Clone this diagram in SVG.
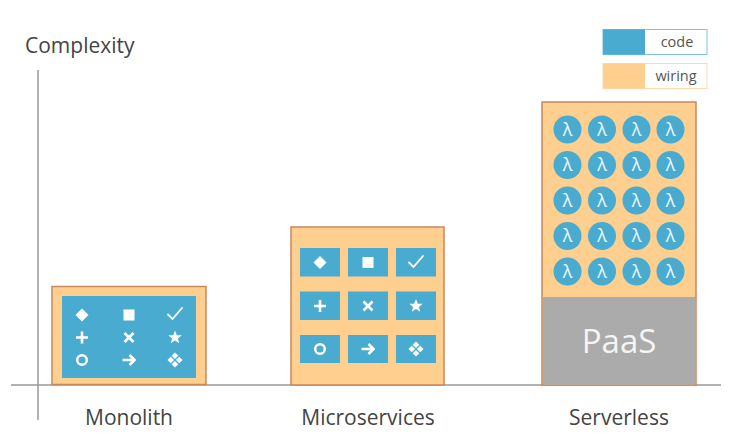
<svg xmlns="http://www.w3.org/2000/svg" xmlns:xlink="http://www.w3.org/1999/xlink" width="731" height="438" viewBox="0 0 731 438">
<style>
.lbl{font-family:"Open Sans","Liberation Sans",sans-serif;fill:#444;font-size:21px;text-anchor:middle}
.leg{font-family:"Open Sans","Liberation Sans",sans-serif;fill:#555;font-size:14.5px;text-anchor:middle}
.wire{fill:#fecf8f;stroke:#c8895c;stroke-width:1.5}
.code{fill:#4aabd0}
.lam{font-family:"Open Sans","DejaVu Sans",sans-serif;fill:#eef7fb;font-size:18px;text-anchor:middle}
.ic{fill:#fff}
.is{fill:none;stroke:#fff;stroke-width:2.6}
.axis{stroke:#999;stroke-width:1.5}
</style>
<defs>
<polygon id="i-diamond" class="ic" points="0,-6.5 6.5,0 0,6.5 -6.5,0"/>
<rect id="i-square" class="ic" x="-5.5" y="-5.5" width="11" height="11"/>
<path id="i-check" fill="none" stroke="#fff" stroke-width="1.8" stroke-linecap="round" d="M-7,0.5 L-2.5,5 L7,-6"/>
<path id="i-plus" class="is" d="M-6,0 H6 M0,-6 V6"/>
<path id="i-x" class="is" d="M-4.5,-4.5 L4.5,4.5 M4.5,-4.5 L-4.5,4.5"/>
<polygon id="i-star" class="ic" points="0,-7 1.8,-2.3 6.7,-2.2 2.9,0.9 4.2,5.7 0,2.9 -4.2,5.7 -2.9,0.9 -6.7,-2.2 -1.8,-2.3"/>
<circle id="i-ring" cx="0" cy="0" r="4.8" fill="none" stroke="#fff" stroke-width="2.4"/>
<path id="i-arrow" class="is" d="M-6.5,0 H5.5 M0.5,-5 L5.5,0 L0.5,5"/>
<g id="i-cluster" class="ic">
<polygon points="0,-7.5 3.3,-4.2 0,-0.9 -3.3,-4.2"/>
<polygon points="4.2,-3.3 7.5,0 4.2,3.3 0.9,0"/>
<polygon points="0,0.9 3.3,4.2 0,7.5 -3.3,4.2"/>
<polygon points="-4.2,-3.3 -0.9,0 -4.2,3.3 -7.5,0"/>
</g>
<g id="lambda">
<circle cx="0" cy="0" r="14" class="code"/>
<text class="lam" x="0" y="6.3">λ</text>
</g>
</defs>

<g id="axes">
<line class="axis" x1="11" y1="385" x2="721" y2="385"/>
<line class="axis" x1="38" y1="70" x2="38" y2="420"/>
<text id="y-title" x="25" y="53" font-family="'Open Sans','Liberation Sans',sans-serif" font-size="21" fill="#444">Complexity</text>
</g>

<g id="legend">
<rect x="603" y="29.5" width="104" height="25" fill="#fff" stroke="#7cc3df" stroke-width="1"/>
<rect x="603" y="29.5" width="42" height="25" class="code"/>
<text class="leg" x="677" y="47">code</text>
<rect x="603" y="63.5" width="104" height="25" fill="#fff" stroke="#fedcaa" stroke-width="1"/>
<rect x="603" y="63.5" width="42" height="25" fill="#fecf8f"/>
<text class="leg" x="676" y="81">wiring</text>
</g>

<g id="monolith">
<rect class="wire" x="52" y="286.5" width="154" height="98"/>
<rect class="code" x="62" y="296" width="134" height="82"/>
<use xlink:href="#i-diamond" x="82" y="315"/>
<use xlink:href="#i-square" x="129" y="315"/>
<use xlink:href="#i-check" x="175" y="314"/>
<use xlink:href="#i-plus" x="82" y="337.5"/>
<use xlink:href="#i-x" x="129" y="337.5"/>
<use xlink:href="#i-star" x="175" y="337.5"/>
<use xlink:href="#i-ring" x="82" y="360"/>
<use xlink:href="#i-arrow" x="129" y="360"/>
<use xlink:href="#i-cluster" x="175" y="360"/>
<text class="lbl" x="129" y="425">Monolith</text>
</g>

<g id="microservices">
<rect class="wire" x="291" y="227" width="153" height="158"/>
<rect class="code" x="300" y="248" width="40" height="28.5"/>
<rect class="code" x="348" y="248" width="40" height="28.5"/>
<rect class="code" x="396" y="248" width="40" height="28.5"/>
<rect class="code" x="300" y="291.5" width="40" height="28.5"/>
<rect class="code" x="348" y="291.5" width="40" height="28.5"/>
<rect class="code" x="396" y="291.5" width="40" height="28.5"/>
<rect class="code" x="300" y="335" width="40" height="28"/>
<rect class="code" x="348" y="335" width="40" height="28"/>
<rect class="code" x="396" y="335" width="40" height="28"/>
<use xlink:href="#i-diamond" x="320" y="262.5"/>
<use xlink:href="#i-square" x="368" y="262.5"/>
<use xlink:href="#i-check" x="416" y="262"/>
<use xlink:href="#i-plus" x="320" y="306"/>
<use xlink:href="#i-x" x="368" y="306"/>
<use xlink:href="#i-star" x="416" y="306"/>
<use xlink:href="#i-ring" x="320" y="349"/>
<use xlink:href="#i-arrow" x="368" y="349"/>
<use xlink:href="#i-cluster" x="416" y="349"/>
<text class="lbl" x="368" y="425">Microservices</text>
</g>

<g id="serverless">
<rect class="wire" x="542" y="102" width="154" height="283"/>
<rect x="542.8" y="297" width="152.4" height="87.5" fill="#ababab"/>
<text x="619" y="353" font-family="'Open Sans','Liberation Sans',sans-serif" font-size="33" fill="#f4f4f4" text-anchor="middle">PaaS</text>
<use xlink:href="#lambda" x="567.5" y="129.5"/>
<use xlink:href="#lambda" x="602" y="129.5"/>
<use xlink:href="#lambda" x="636.5" y="129.5"/>
<use xlink:href="#lambda" x="670.5" y="129.5"/>
<use xlink:href="#lambda" x="567.5" y="165"/>
<use xlink:href="#lambda" x="602" y="165"/>
<use xlink:href="#lambda" x="636.5" y="165"/>
<use xlink:href="#lambda" x="670.5" y="165"/>
<use xlink:href="#lambda" x="567.5" y="200.5"/>
<use xlink:href="#lambda" x="602" y="200.5"/>
<use xlink:href="#lambda" x="636.5" y="200.5"/>
<use xlink:href="#lambda" x="670.5" y="200.5"/>
<use xlink:href="#lambda" x="567.5" y="236"/>
<use xlink:href="#lambda" x="602" y="236"/>
<use xlink:href="#lambda" x="636.5" y="236"/>
<use xlink:href="#lambda" x="670.5" y="236"/>
<use xlink:href="#lambda" x="567.5" y="271.5"/>
<use xlink:href="#lambda" x="602" y="271.5"/>
<use xlink:href="#lambda" x="636.5" y="271.5"/>
<use xlink:href="#lambda" x="670.5" y="271.5"/>
<text class="lbl" x="619" y="425">Serverless</text>
</g>
</svg>
